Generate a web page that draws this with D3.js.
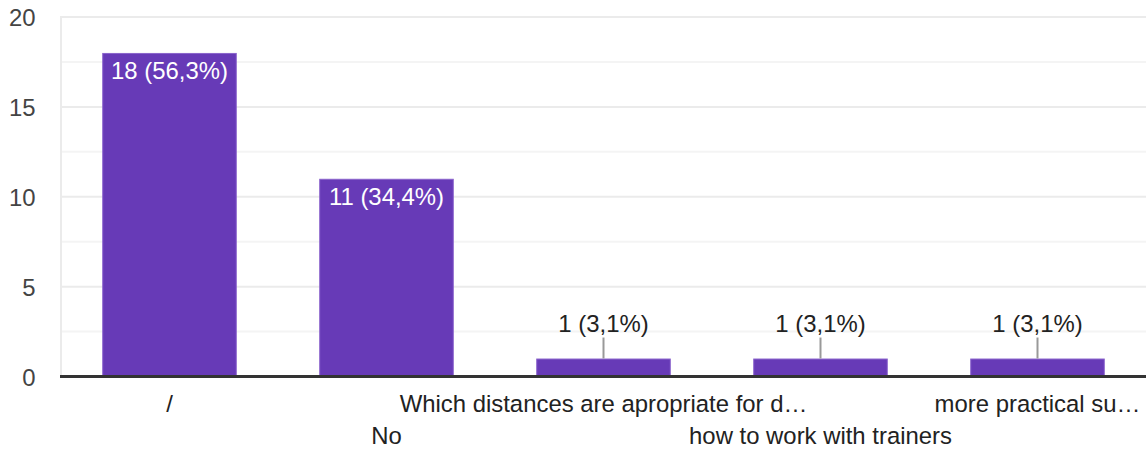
<!DOCTYPE html>
<html>
<head>
<meta charset="utf-8">
<script src="https://cdn.jsdelivr.net/npm/d3@7"></script>
<style>
  html, body { margin: 0; padding: 0; background: #fff; }
  svg { display: block; font-family: "Liberation Sans", Arial, sans-serif; }
</style>
</head>
<body>
<svg id="chart" width="1146" height="450"></svg>
<script>
// Answer labels as shown under each bar (long ones are truncated in the chart)
const categories = [
  "/",
  "No",
  "Which distances are apropriate for d\u2026",
  "how to work with trainers",
  "more practical su\u2026"
];
// Number of responses per answer
const counts = [18, 11, 1, 1, 1];
// Y-axis ticks
const yTicks = [0, 5, 10, 15, 20];
const yMinorTicks = [2.5, 7.5, 12.5, 17.5];

const FONT = "'Liberation Sans', Arial, sans-serif";
const FS = 23.9;
const total = d3.sum(counts);
const data = categories.map((c, i) => ({ cat: c, value: counts[i] }));

const svg = d3.select("#chart");
const plotLeft = 61, plotRight = 1146, plotTop = 17, plotBottom = 376.5;

const x = d3.scaleBand()
  .domain(categories)
  .range([plotLeft, plotRight])
  .paddingInner(0.38)
  .paddingOuter(0.19);

const y = d3.scaleLinear().domain([0, 20]).range([plotBottom, plotTop]);

// minor grid
svg.append("g").selectAll("line").data(yMinorTicks).join("line")
  .attr("x1", plotLeft).attr("x2", plotRight)
  .attr("y1", d => y(d)).attr("y2", d => y(d))
  .attr("stroke", "#f4f4f4").attr("stroke-width", 2);

// major grid
svg.append("g").selectAll("line").data(yTicks.filter(d => d > 0)).join("line")
  .attr("x1", plotLeft).attr("x2", plotRight)
  .attr("y1", d => y(d)).attr("y2", d => y(d))
  .attr("stroke", "#ebebeb").attr("stroke-width", 2);

// left edge of the plot area
svg.append("line")
  .attr("x1", plotLeft).attr("x2", plotLeft)
  .attr("y1", y(20) - 1).attr("y2", plotBottom)
  .attr("stroke", "#ebebeb").attr("stroke-width", 2);

// y tick labels
const yAxis = d3.axisLeft(y).tickValues(yTicks).tickSize(0).tickPadding(0);
const gy = svg.append("g").attr("transform", `translate(35.5,0)`).call(yAxis);
gy.select(".domain").remove();
gy.selectAll("text")
  .attr("font-family", FONT)
  .attr("font-size", FS)
  .attr("dy", "0.36em")
  .attr("fill", "#444");

// bars
svg.append("g").selectAll("rect").data(data).join("rect")
  .attr("x", d => x(d.cat) + 0.5)
  .attr("y", d => y(d.value) + 0.5)
  .attr("width", x.bandwidth() - 1)
  .attr("height", d => plotBottom - y(d.value) - 0.5)
  .attr("fill", "#673ab7")
  .attr("stroke", "#8a63cc")
  .attr("stroke-width", 1);

const fmt = d => `${d.value} (${(d.value / total * 100).toFixed(1).replace(".", ",")}%)`;

// value labels: inside tall bars, above short bars with a leader line
const labels = svg.append("g").attr("font-family", FONT);
data.forEach(d => {
  const cx = x(d.cat) + x.bandwidth() / 2;
  const yt = y(d.value);
  if (d.value >= 5) {
    labels.append("text")
      .attr("x", cx).attr("y", yt + 26)
      .attr("text-anchor", "middle")
      .attr("font-size", FS)
      .attr("fill", "#fff")
      .text(fmt(d));
  } else {
    labels.append("line")
      .attr("x1", cx).attr("x2", cx)
      .attr("y1", yt - 21).attr("y2", yt)
      .attr("stroke", "#999").attr("stroke-width", 2);
    labels.append("text")
      .attr("x", cx).attr("y", yt - 27)
      .attr("text-anchor", "middle")
      .attr("font-size", FS)
      .attr("fill", "#222")
      .text(fmt(d));
  }
});

// baseline
svg.append("line")
  .attr("x1", plotLeft - 1).attr("x2", plotRight)
  .attr("y1", plotBottom).attr("y2", plotBottom)
  .attr("stroke", "#333").attr("stroke-width", 3);

// category labels, alternating between two rows
const xAxis = d3.axisBottom(x).tickSize(0).tickPadding(0);
const gx = svg.append("g").attr("transform", `translate(0,${plotBottom})`).call(xAxis);
gx.select(".domain").remove();
gx.selectAll("text")
  .attr("font-family", FONT)
  .attr("font-size", FS)
  .attr("fill", "#222")
  .attr("dy", null)
  .attr("y", (d, i) => i % 2 === 0 ? 35.5 : 67);
</script>
</body>
</html>
